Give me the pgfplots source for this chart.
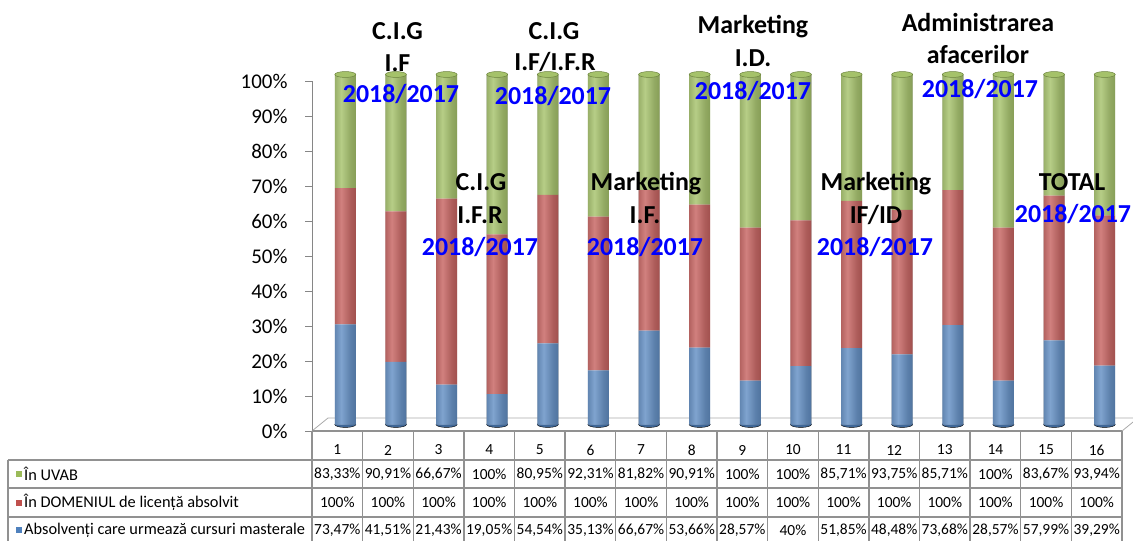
\documentclass[border=0pt]{standalone}
\usepackage{pgfplots}
\pgfplotsset{compat=1.18}
\usepackage{pgfplotstable}
\usepackage{fontspec}
\setmainfont{Carlito}
\definecolor{cblue}{RGB}{79,129,189}
\definecolor{cred}{RGB}{192,80,77}
\definecolor{cgreen}{RGB}{155,187,89}
\definecolor{axgray}{RGB}{134,134,134}
\definecolor{tblgray}{RGB}{145,145,145}
\definecolor{floorgray}{RGB}{170,170,170}
\definecolor{annblue}{RGB}{0,0,255}

% shares of each column in the 100% stack (blue = masterale, red = domeniu, green = UVAB)
\pgfplotstableread{
x blue red green
1 28.61 38.94 32.45
2 17.86 43.03 39.11
3 11.39 53.16 35.45
4 8.70 45.65 45.65
5 23.16 42.46 34.38
6 15.45 43.97 40.58
7 26.83 40.24 32.93
8 21.94 40.89 37.17
9 12.50 43.75 43.75
10 16.67 41.67 41.66
11 21.83 42.09 36.08
12 20.01 41.28 38.71
13 28.41 38.55 33.04
14 12.50 43.75 43.75
15 24.00 41.38 34.62
16 16.85 42.88 40.27
}\datatab

\pgfdeclarehorizontalshading{cylshading}{100bp}{color(0bp)=(black); color(22bp)=(gray); color(40bp)=(white); color(62bp)=(gray); color(100bp)=(black)}
\pgfdeclareplotmark{cylsh}{%
  \pgfsetfillopacity{0.28}%
  \pgfpathrectangle{\pgfpoint{-10.5bp}{-175bp}}{\pgfpoint{21bp}{350bp}}%
  \pgfshadepath{cylshading}{0}%
  \pgfusepath{discard}%
}

\pgfplotsset{
  common/.style={
    anchor=south west, x=50.625bp, y=3.5bp,
    xmin=0.5, xmax=16.5, ymin=0, ymax=100, clip=false,
  },
}

\begin{document}
\begin{tikzpicture}
% ---------- frame axis (y axis with ticks) ----------
\begin{axis}[common, at={(0,0)},
  axis x line=none, axis y line*=left,
  y axis line style={axgray, line width=0.8bp},
  ytick={0,10,...,100},
  yticklabel={\pgfmathprintnumber{\tick}\%},
  /pgf/number format/assume math mode=true,
  tick align=outside, major tick length=7bp,
  tick style={axgray, line width=0.8bp},
  yticklabel style={font=\fontsize{21}{25}\selectfont, text=black, xshift=-14bp},
]
\addplot[draw=none, forget plot] coordinates {(1,0)};
\end{axis}

% floor
\draw[floorgray, line width=0.8bp] (0,0) -- (16bp,13bp) -- (840bp,13bp);
\draw[floorgray, line width=0.8bp] (810bp,0) -- (826bp,13bp);

% ---------- bottom ellipses ----------
\begin{axis}[common, at={(8bp,6.5bp)}, hide axis]
\addplot[only marks, mark=*, mark size=10.5bp,
  mark options={yscale=0.28, fill=cblue!80!black, draw=none}]
  table[x=x, y expr=0]{\datatab};
\end{axis}

% ---------- cylinders ----------
\begin{axis}[common, at={(8bp,6.5bp)}, hide axis, ybar stacked, bar width=21bp]
\addplot[draw=none, fill=cblue] table[x=x, y=blue]{\datatab};
\addplot[draw=none, fill=cred] table[x=x, y=red]{\datatab};
\addplot[draw=none, fill=cgreen] table[x=x, y=green]{\datatab};
\end{axis}

% ---------- cylinder shading and top caps ----------
\begin{axis}[common, at={(8bp,6.5bp)}, hide axis]
\addplot[only marks, mark=cylsh] table[x=x, y expr=50]{\datatab};
\addplot[only marks, mark=*, mark size=10.5bp,
  mark options={yscale=0.28, fill=cgreen!90!white, draw=cgreen!70!black, line width=0.5bp}]
  table[x=x, y expr=100]{\datatab};
\end{axis}

% ---------- data table ----------
\begin{scope}[tblgray, line width=1.4bp]
\foreach \k in {0,...,16} {
  \draw ({\k*50.625bp},0) -- ({\k*50.625bp},-112bp);
}
\draw (0,0) -- (810bp,0);
\draw (-304bp,-29bp) -- (810bp,-29bp);
\draw (-304bp,-57bp) -- (810bp,-57bp);
\draw (-304bp,-86bp) -- (810bp,-86bp);
\draw (-304bp,-29bp) -- (-304bp,-112bp);
\end{scope}

\begin{scope}[font=\fontsize{15.5}{18}\selectfont]
\foreach \i in {1,...,16} {
  \node at ({(\i-0.5)*50.625bp},-19bp) {\i};
  \node at ({(\i-0.5)*50.625bp},-71bp) {100\%};
}
\foreach \v [count=\i] in {{83,33\%},{90,91\%},{66,67\%},{100\%},{80,95\%},{92,31\%},{81,82\%},{90,91\%},{100\%},{100\%},{85,71\%},{93,75\%},{85,71\%},{100\%},{83,67\%},{93,94\%}} {
  \node at ({(\i-0.5)*50.625bp},-43bp) {\v};
}
\foreach \v [count=\i] in {{73,47\%},{41,51\%},{21,43\%},{19,05\%},{54,54\%},{35,13\%},{66,67\%},{53,66\%},{28,57\%},{40\%},{51,85\%},{48,48\%},{73,68\%},{28,57\%},{57,99\%},{39,29\%}} {
  \node at ({(\i-0.5)*50.625bp},-99bp) {\v};
}
\end{scope}
\begin{scope}[font=\fontsize{16.4}{19}\selectfont]
\fill[cgreen] (-296bp,-46bp) rectangle ++(6.5bp,6.5bp);
\fill[cred] (-296bp,-75bp) rectangle ++(6.5bp,6.5bp);
\fill[cblue] (-296bp,-102bp) rectangle ++(6.5bp,6.5bp);
\node[anchor=west, inner sep=0] at (-288bp,-43bp) {În UVAB};
\node[anchor=west, inner sep=0] at (-288bp,-71bp) {În DOMENIUL de licență absolvit};
\node[anchor=west, inner sep=0] at (-288bp,-99bp) {Absolvenți care urmează cursuri masterale};
\end{scope}

% ---------- annotations ----------
\begin{scope}[every node/.style={anchor=base, inner sep=0, font=\bfseries\fontsize{26}{30}\selectfont}]
\node at (85.5bp,391.5bp) {C.I.G};
\node at (85.5bp,359.5bp) {I.F};
\node[text=annblue] at (89bp,328.5bp) {2018/2017};

\node at (242bp,391.5bp) {C.I.G};
\node at (243bp,360.5bp) {I.F/I.F.R};
\node[text=annblue] at (241bp,326.5bp) {2018/2017};

\node at (169bp,240bp) {C.I.G};
\node at (168bp,207.5bp) {I.F.R};
\node[text=annblue] at (168bp,175.5bp) {2018/2017};

\node at (334bp,240bp) {Marketing};
\node at (333bp,207.5bp) {I.F.};
\node[text=annblue] at (333bp,175.5bp) {2018/2017};

\node at (441bp,397bp) {Marketing};
\node at (441bp,364.5bp) {I.D.};
\node[text=annblue] at (441bp,331.5bp) {2018/2017};

\node at (564bp,240bp) {Marketing};
\node at (564bp,207.5bp) {IF/ID};
\node[text=annblue] at (563bp,175.5bp) {2018/2017};

\node at (666bp,399bp) {Administrarea};
\node at (666bp,367bp) {afacerilor};
\node[text=annblue] at (668bp,333.5bp) {2018/2017};

\node at (760bp,240bp) {TOTAL};
\node[text=annblue] at (761bp,208.5bp) {2018/2017};
\end{scope}

\pgfresetboundingbox
\path (-312bp,-110bp) rectangle (821bp,431bp);
\end{tikzpicture}
\end{document}
